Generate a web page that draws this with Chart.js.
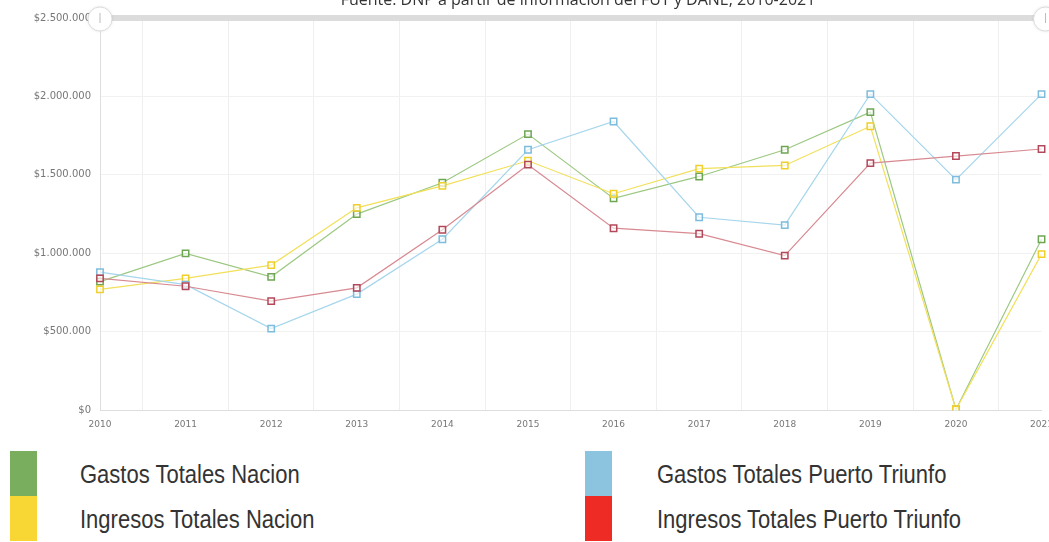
<!DOCTYPE html>
<html>
<head>
<meta charset="utf-8">
<script src="https://cdn.jsdelivr.net/npm/chart.js@4.4.1/dist/chart.umd.min.js"></script>
<style>
  html, body { margin: 0; padding: 0; background: #fff; overflow: hidden; width: 1049px; height: 542px; }
  #wrap { position: absolute; left: 0; top: 0; width: 1062px; height: 439px; }
  .lg { position: absolute; font-family: 'Liberation Sans', sans-serif; font-size: 25px; color: #333;
        transform: scaleX(0.88); transform-origin: left center; white-space: nowrap; }
  .sw { position: absolute; width: 27px; height: 45px; }
</style>
</head>
<body>
<div id="wrap"><canvas id="c"></canvas></div>

<div class="sw" style="left:10px;top:451px;background:#7aae5f"></div>
<div class="sw" style="left:10px;top:496px;background:#f8d633"></div>
<div class="sw" style="left:585px;top:451px;background:#8cc4e0"></div>
<div class="sw" style="left:585px;top:496px;background:#ee2b25"></div>
<div class="lg" style="left:80px;top:460px">Gastos Totales Nacion</div>
<div class="lg" style="left:80px;top:505px">Ingresos Totales Nacion</div>
<div class="lg" style="left:657px;top:460px">Gastos Totales Puerto Triunfo</div>
<div class="lg" style="left:657px;top:505px">Ingresos Totales Puerto Triunfo</div>

<script>
// datos (pesos)
const years = ['2010','2011','2012','2013','2014','2015','2016','2017','2018','2019','2020','2021'];
const gastosNacion    = [820000, 1000000, 850000, 1250000, 1450000, 1760000, 1350000, 1490000, 1660000, 1900000, 5000, 1090000];
const ingresosNacion  = [770000, 840000, 925000, 1290000, 1430000, 1590000, 1380000, 1540000, 1560000, 1810000, 5000, 995000];
const gastosPuerto    = [880000, 800000, 520000, 740000, 1090000, 1660000, 1840000, 1230000, 1180000, 2015000, 1470000, 2015000];
const ingresosPuerto  = [840000, 790000, 695000, 780000, 1150000, 1565000, 1160000, 1125000, 985000, 1575000, 1620000, 1665000];
const yTicks = [0, 500000, 1000000, 1500000, 2000000, 2500000];

const fmt = v => '$' + v.toString().replace(/\B(?=(\d{3})+(?!\d))/g, '.');

function ds(label, data, line, point) {
  return {
    label, data,
    borderColor: line,
    borderWidth: 1.2,
    pointStyle: 'rect',
    pointRadius: 4.5,
    pointBorderWidth: 1.5,
    pointBorderColor: point,
    pointBackgroundColor: 'rgba(255,255,255,0.6)',
    tension: 0
  };
}

// barra de rango + titulo cortado arriba
const extras = {
  id: 'extras',
  afterDraw(chart) {
    const { ctx, chartArea: a } = chart;
    ctx.save();
    ctx.fillStyle = '#333';
    ctx.font = '16px "Open Sans", sans-serif';
    ctx.textAlign = 'center';
    ctx.textBaseline = 'alphabetic';
    ctx.fillText('Fuente: DNP a partir de información del FUT y DANE, 2010-2021', 578, 5);

    ctx.fillStyle = '#dcdcdc';
    ctx.fillRect(a.left, a.top - 3, a.right - a.left + 4, 6);
    [a.left, a.right + 4].forEach(x => {
      ctx.beginPath();
      ctx.arc(x, a.top + 1, 12, 0, Math.PI * 2);
      ctx.fillStyle = '#fff';
      ctx.shadowColor = 'rgba(0,0,0,0.15)';
      ctx.shadowBlur = 3;
      ctx.fill();
      ctx.shadowBlur = 0;
      ctx.strokeStyle = '#ddd';
      ctx.lineWidth = 1;
      ctx.stroke();
      ctx.strokeStyle = '#bbb';
      ctx.beginPath();
      ctx.moveTo(x, a.top - 5);
      ctx.lineTo(x, a.top + 5);
      ctx.stroke();
    });
    ctx.restore();
  }
};

new Chart(document.getElementById('c'), {
  type: 'line',
  data: {
    labels: years,
    datasets: [
      ds('Ingresos Totales Puerto Triunfo', ingresosPuerto, '#d88a92', '#b3485a'),
      ds('Gastos Totales Puerto Triunfo', gastosPuerto, '#a6d6ec', '#7dbcdc'),
      ds('Ingresos Totales Nacion', ingresosNacion, '#f2e05a', '#f0cf2a'),
      ds('Gastos Totales Nacion', gastosNacion, '#9cc882', '#6fa653')
    ]
  },
  plugins: [extras],
  options: {
    responsive: true, maintainAspectRatio: false,
    animation: false,
    layout: { padding: { top: 18, left: 0, right: 0, bottom: 0 } },
    plugins: { legend: { display: false }, tooltip: { enabled: false } },
    scales: {
      x: {
        grid: { offset: true, color: '#efefef', drawTicks: false },
        border: { color: '#dedede' },
        ticks: { color: '#777', font: { family: 'DejaVu Sans', size: 9 }, padding: 9, maxRotation: 0, autoSkip: false }
      },
      y: {
        min: 0, max: 2500000,
        afterBuildTicks: s => { s.ticks = yTicks.map(v => ({ value: v })); },
        afterFit: s => { s.width = 100; },
        grid: { color: '#f1f1f1', drawTicks: false },
        border: { color: '#dedede' },
        ticks: { color: '#777', font: { family: 'DejaVu Sans', size: 10 }, padding: 9, callback: v => fmt(v) }
      }
    }
  }
});
</script>
</body>
</html>
